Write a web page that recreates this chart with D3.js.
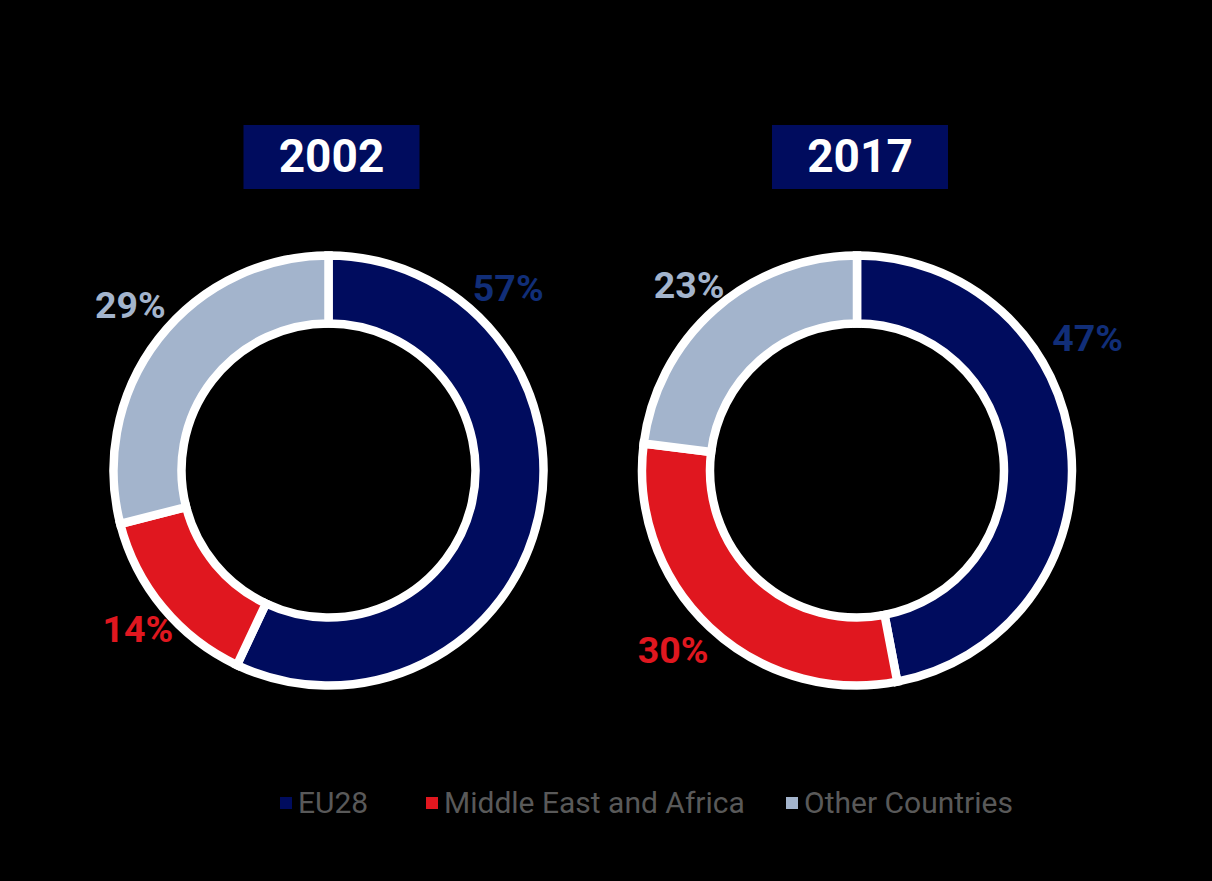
<!DOCTYPE html>
<html>
<head>
<meta charset="utf-8">
<script src="https://cdn.jsdelivr.net/npm/d3@7"></script>
<style>
  html, body { margin: 0; padding: 0; background: #000; }
  svg { display: block; }
  text { font-family: Roboto, "Noto Sans", sans-serif; }
</style>
</head>
<body>
<svg id="chart" width="1212" height="881"></svg>
<script>
// Share of total, by region, for each year
const years = ["2002", "2017"];
const regions = ["EU28", "Middle East and Africa", "Other Countries"];
const values2002 = [57, 14, 29];
const values2017 = [47, 30, 23];
const seriesByYear = [values2002, values2017];

// Visual settings
const fillColors = ["#000c5e", "#e0171f", "#a3b4cc"];
const labelColors = ["#112e78", "#e0171f", "#a3b4cc"];

// Label placement around each ring: [angle in degrees from 12 o'clock, distance from centre]
const labelPlacement = [
  [[44.6, 256], [230.2, 248], [309.8, 258]],
  [[60.1, 266], [225.7, 257], [317.8, 250]]
];
const legendItemX = [280, 426, 786];

const W = 1212, H = 881;
const svg = d3.select("#chart");

svg.append("rect").attr("width", W).attr("height", H).attr("fill", "#000");

const xScale = d3.scalePoint().domain(years).range([328.5, 857]);
const cy = 470.5;
const color = d3.scaleOrdinal().domain(regions).range(fillColors);
const labelColor = d3.scaleOrdinal().domain(regions).range(labelColors);

const pie = d3.pie().sort(null).value(d => d.value);
const arc = d3.arc().innerRadius(147).outerRadius(215);

years.forEach((year, yi) => {
  const cx = xScale(year);
  const data = regions.map((r, i) => ({ region: r, value: seriesByYear[yi][i] }));

  // year badge
  const badge = svg.append("g").attr("transform", `translate(${cx + 3},157)`);
  badge.append("rect")
    .attr("x", -88).attr("y", -32).attr("width", 176).attr("height", 64)
    .attr("fill", "#000c5e");
  badge.append("text")
    .attr("text-anchor", "middle").attr("y", 14.5)
    .attr("font-size", 46).attr("font-weight", 700).attr("fill", "#fff")
    .text(year);

  // ring
  const g = svg.append("g").attr("transform", `translate(${cx},${cy})`);
  g.selectAll("path")
    .data(pie(data))
    .join("path")
    .attr("d", arc)
    .attr("fill", d => color(d.data.region))
    .attr("stroke", "#fff")
    .attr("stroke-width", 8.5)
    .attr("stroke-linejoin", "miter");

  // percentage labels
  g.selectAll("text.pct")
    .data(pie(data))
    .join("text")
    .attr("class", "pct")
    .attr("text-anchor", "middle")
    .attr("dy", "0.35em")
    .attr("x", (d, i) => labelPlacement[yi][i][1] * Math.sin(labelPlacement[yi][i][0] * Math.PI / 180))
    .attr("y", (d, i) => -labelPlacement[yi][i][1] * Math.cos(labelPlacement[yi][i][0] * Math.PI / 180))
    .attr("font-size", 37.5)
    .attr("font-weight", 700)
    .attr("fill", d => labelColor(d.data.region))
    .text(d => d.data.value + "%");
});

// legend
const legend = svg.append("g").attr("transform", "translate(0,803)");
const items = legend.selectAll("g")
  .data(regions)
  .join("g")
  .attr("transform", (d, i) => `translate(${legendItemX[i]},0)`);
items.append("rect")
  .attr("x", 0).attr("y", -6).attr("width", 12).attr("height", 12)
  .attr("fill", d => color(d));
items.append("text")
  .attr("x", 18).attr("y", 10)
  .attr("font-size", 30)
  .attr("fill", "#595959")
  .text(d => d);
</script>
</body>
</html>
